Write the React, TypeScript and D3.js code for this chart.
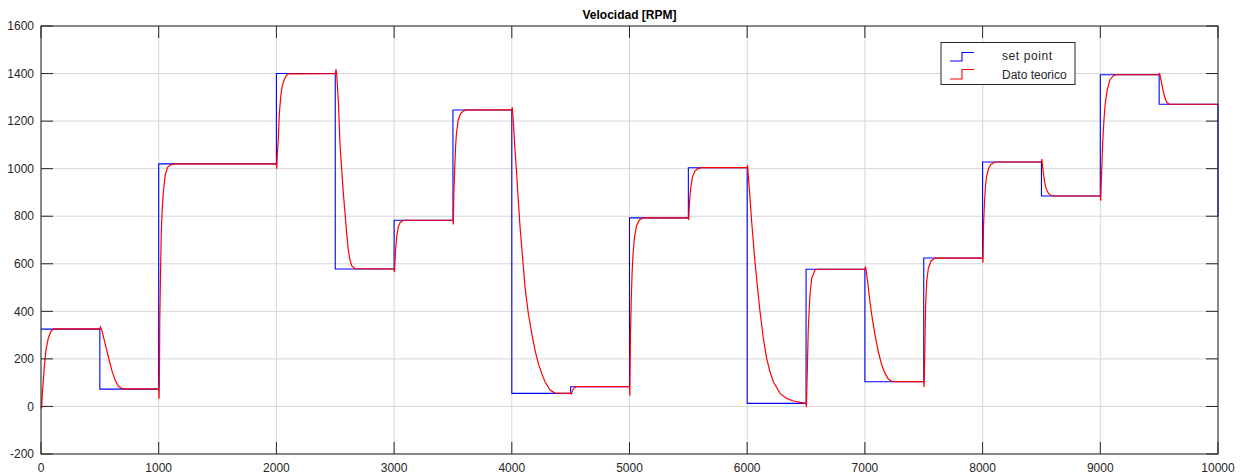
import * as d3 from "d3";

// set point steps (every 500 samples)
const spTime = [0, 500, 1000, 1500, 2000, 2500, 3000, 3500, 4000, 4500, 5000, 5500, 6000, 6500, 7000, 7500, 8000, 8500, 9000, 9500, 10000];
const spValue = [325, 73, 1020, 1020, 1400, 578, 783, 1247, 55, 83, 793, 1004, 13, 577, 104, 624, 1028, 885, 1395, 1271, 800];

// dato teorico
const teorico: [number, number][] = [
  [0, 0], [5, -8], [12, 60], [20, 111], [28, 167], [42, 237], [62, 287], [82, 314], [105, 326], [500, 326],
  [505, 334], [516, 322], [544, 266], [572, 209], [601, 153], [629, 111], [657, 86], [680, 77], [700, 74], [1000, 74],
  [1003, 32], [1006, 120], [1009, 355], [1015, 545], [1022, 735], [1030, 830], [1040, 906], [1055, 972], [1075, 1006], [1100, 1016], [1140, 1020], [2000, 1020],
  [2003, 1000], [2008, 1060], [2016, 1121], [2025, 1233], [2037, 1303], [2048, 1345], [2065, 1373], [2088, 1394], [2105, 1399], [2500, 1400],
  [2506, 1418], [2512, 1400], [2527, 1275], [2540, 1107], [2555, 994], [2569, 896], [2583, 812], [2597, 728], [2611, 658], [2625, 616], [2640, 591], [2668, 580], [3000, 578],
  [3003, 565], [3007, 610], [3014, 665], [3022, 714], [3036, 756], [3050, 772], [3064, 779], [3090, 783], [3500, 783],
  [3503, 765], [3508, 900], [3515, 1000], [3522, 1090], [3530, 1150], [3545, 1205], [3565, 1232], [3590, 1243], [3620, 1247], [4000, 1247],
  [4004, 1258], [4013, 1198], [4027, 1079], [4041, 981], [4055, 868], [4070, 756], [4084, 672], [4098, 588], [4112, 504], [4140, 392], [4169, 308], [4197, 237], [4225, 181], [4254, 139], [4282, 104], [4325, 69], [4367, 56], [4500, 55],
  [4505, 52], [4515, 66], [4530, 78], [4550, 83], [5000, 83],
  [5003, 45], [5008, 300], [5015, 450], [5022, 560], [5030, 640], [5042, 710], [5060, 760], [5085, 785], [5120, 793], [5500, 793],
  [5503, 785], [5510, 860], [5520, 920], [5535, 965], [5555, 990], [5580, 1000], [5610, 1004], [6000, 1004],
  [6003, 1015], [6009, 973], [6024, 875], [6038, 777], [6052, 693], [6066, 609], [6080, 539], [6094, 469], [6109, 398], [6137, 286], [6165, 202], [6194, 146], [6222, 104], [6279, 55], [6335, 34], [6392, 23], [6449, 17], [6500, 13],
  [6503, -2], [6511, 160], [6519, 328], [6533, 469], [6548, 539], [6576, 574], [6600, 577], [7000, 577],
  [7004, 585], [7009, 578], [7023, 525], [7043, 441], [7058, 385], [7086, 300], [7114, 230], [7143, 174], [7171, 139], [7199, 115], [7227, 106], [7260, 104], [7500, 104],
  [7503, 82], [7516, 427], [7525, 525], [7539, 581], [7562, 612], [7596, 624], [8000, 624],
  [8003, 605], [8008, 760], [8016, 860], [8025, 930], [8035, 970], [8050, 1000], [8070, 1018], [8100, 1026], [8130, 1028], [8500, 1028],
  [8503, 1040], [8508, 1020], [8515, 985], [8525, 950], [8540, 915], [8560, 895], [8585, 887], [8610, 885], [9000, 885],
  [9003, 865], [9012, 994], [9020, 1107], [9031, 1205], [9042, 1275], [9059, 1331], [9082, 1373], [9110, 1391], [9138, 1395], [9500, 1395],
  [9503, 1402], [9507, 1394], [9521, 1359], [9536, 1324], [9550, 1296], [9564, 1279], [9586, 1271], [10000, 1271],
];

const xTicks = d3.range(0, 10001, 1000);
const yTicks = d3.range(-200, 1601, 200);
const legendLabels = ["set point", "Dato teorico"];

const W = 1244;
const H = 476;
const left = 41, right = 1218, top = 26, bottom = 454;
const axisColor = "#262626";
const font = "'Liberation Sans', Arial, Helvetica, sans-serif";

const App = () => {
  const x = d3.scaleLinear().domain([0, 10000]).range([left, right]);
  const y = d3.scaleLinear().domain([-200, 1600]).range([bottom, top]);

  const spLine = d3.line<number>()
    .x((_, i) => x(spTime[i]))
    .y((d) => y(d))
    .curve(d3.curveStepAfter);

  const redLine = d3.line<[number, number]>()
    .x((d) => x(d[0]))
    .y((d) => y(d[1]));

  const tickLen = 12;

  // legend icon: small stair
  const stair = (x0: number, yLow: number, yHigh: number) =>
    `M${x0},${yLow}H${x0 + 12}V${yHigh}H${x0 + 24}`;

  return (
    <svg width={W} height={H} style={{ position: "absolute", left: 0, top: 0, background: "#fff" }}>
      <rect x={0} y={0} width={W} height={H} fill="#fff" />
      {/* grid */}
      {xTicks.map((t) => (
        <line key={"gx" + t} x1={x(t)} x2={x(t)} y1={top} y2={bottom} stroke="#d6d6d6" strokeWidth={1} />
      ))}
      {yTicks.map((t) => (
        <line key={"gy" + t} x1={left} x2={right} y1={y(t)} y2={y(t)} stroke="#d6d6d6" strokeWidth={1} />
      ))}

      {/* data */}
      <path d={spLine(spValue) || ""} fill="none" stroke="#0000ff" strokeWidth={1.1} />
      <path d={redLine(teorico) || ""} fill="none" stroke="#ff0000" strokeWidth={1.2} />

      {/* box and ticks */}
      <rect x={left} y={top} width={right - left} height={bottom - top} fill="none" stroke={axisColor} strokeWidth={1} />
      {xTicks.map((t) => (
        <g key={"tx" + t}>
          <line x1={x(t)} x2={x(t)} y1={bottom} y2={bottom - tickLen} stroke={axisColor} />
          <line x1={x(t)} x2={x(t)} y1={top} y2={top + tickLen} stroke={axisColor} />
          <text x={x(t)} y={472} textAnchor="middle" fontFamily={font} fontSize={12} fill={axisColor}>
            {t}
          </text>
        </g>
      ))}
      {yTicks.map((t) => (
        <g key={"ty" + t}>
          <line x1={left} x2={left + tickLen} y1={y(t)} y2={y(t)} stroke={axisColor} />
          <line x1={right} x2={right - tickLen} y1={y(t)} y2={y(t)} stroke={axisColor} />
          <text x={34} y={y(t)} dy="0.35em" textAnchor="end" fontFamily={font} fontSize={12} fill={axisColor}>
            {t}
          </text>
        </g>
      ))}

      {/* title */}
      <text x={(left + right) / 2} y={19} textAnchor="middle" fontFamily={font} fontSize={12} fontWeight="bold" fill="#000">
        Velocidad [RPM]
      </text>

      {/* legend */}
      <rect x={941} y={42.5} width={134} height={42} fill="#fff" stroke={axisColor} strokeWidth={1} />
      <path d={stair(950, 61, 52.5)} fill="none" stroke="#0000ff" strokeWidth={1.1} />
      <path d={stair(950, 79, 69.5)} fill="none" stroke="#ff0000" strokeWidth={1.1} />
      <text x={1002} y={56} dy="0.35em" fontFamily={font} fontSize={12} fill={axisColor} letterSpacing={0.6}>
        {legendLabels[0]}
      </text>
      <text x={1002} y={74.5} dy="0.35em" fontFamily={font} fontSize={12} fill={axisColor}>
        {legendLabels[1]}
      </text>
    </svg>
  );
};

export default App;
